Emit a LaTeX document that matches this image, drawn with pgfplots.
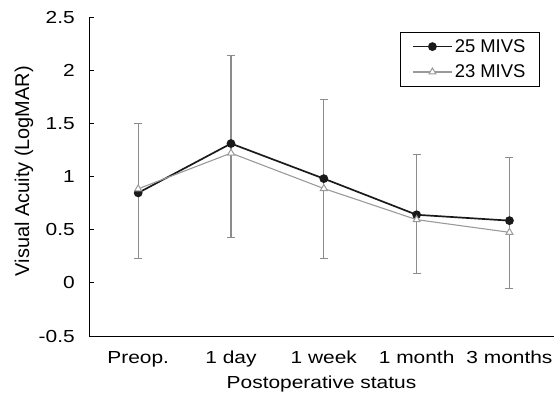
\documentclass[border=0pt]{standalone}
\usepackage{pgfplots}
\pgfplotsset{compat=1.18}
\usepackage{fontspec}
\setmainfont{Liberation Sans}
\newfontfamily\wide{Liberation Sans}[FakeStretch=1.2]
\definecolor{darkline}{HTML}{1A1A1A}
\definecolor{grayline}{HTML}{9A9A9A}
\definecolor{errgray}{HTML}{8C8C8C}
\begin{document}
\begin{tikzpicture}
\path[use as bounding box] (0,0) rectangle (554bp,397bp);
\begin{axis}[
  at={(89bp,61bp)}, anchor=south west,
  scale only axis, width=465bp, height=319bp,
  axis lines=left, axis line style={-, line width=0.9pt, black},
  xmin=-0.53, xmax=4.48, ymin=-0.5, ymax=2.5,
  xtick={0,1,2,3,4},
  xticklabels={Preop., 1 day, 1 week, 1 month, 3 months},
  xtick style={draw=none},
  ytick={-0.5,0,0.5,1,1.5,2,2.5},
  yticklabels={-0.5,0,0.5,1,1.5,2,2.5},
  tick align=inside, major tick length=5bp,
  ytick style={line width=0.7pt, black},
  tick label style={font=\wide\fontsize{17.5}{21}\selectfont},
  yticklabel style={anchor=east, inner sep=0pt, xshift=-14bp},
  xticklabel style={anchor=base, inner sep=0pt, yshift=-27bp},
  xlabel={Postoperative status},
  ylabel={Visual Acuity (LogMAR)},
  xlabel style={font=\wide\fontsize{17.5}{21}\selectfont, at={(axis description cs:0.5,0)}, anchor=base, inner sep=0pt, yshift=-52bp},
  ylabel style={font=\fontsize{20}{23}\selectfont, at={(axis description cs:-0.14,0.517)}, anchor=center, inner sep=0pt},
  legend style={at={(0.668,0.953)}, anchor=north west, draw=black, line width=0.9pt,
    font=\fontsize{18.5}{22}\selectfont, inner xsep=12bp, inner ysep=5bp,
    row sep=7bp, cells={anchor=west}},
  legend cell align=left,
  legend image code/.code={\draw[mark repeat=2,mark phase=2,#1] plot coordinates {(0bp,0bp) (19.5bp,0bp) (39bp,0bp)};},
  clip=false,
]
% error bars (belonging to 25 MIVS)
\addplot[draw=none, forget plot, mark=none,
  error bars/.cd, y dir=both, y explicit,
  error bar style={errgray, line width=1.1pt},
  error mark options={rotate=90, mark size=4bp, errgray, line width=1.1pt}]
  table[x=x, y=y, y error plus=ep, y error minus=em] {
x y ep em
0 0.846 0.651 0.616
1 1.31 0.83 0.88
2 0.98 0.74 0.75
3 0.64 0.565 0.55
4 0.585 0.595 0.635
};
\addplot[darkline, line width=1.7pt, mark=*, mark size=3.5bp, mark options={fill=darkline, draw=darkline}]
  coordinates {(0,0.846) (1,1.31) (2,0.98) (3,0.64) (4,0.585)};
\addlegendentry{25 MIVS}
\addplot[grayline, line width=1.1pt, mark=triangle*, mark size=4bp, mark options={fill=white, draw=grayline, line width=1pt}]
  coordinates {(0,0.884) (1,1.22) (2,0.887) (3,0.594) (4,0.475)};
\addlegendentry{23 MIVS}
\end{axis}
\end{tikzpicture}
\end{document}
